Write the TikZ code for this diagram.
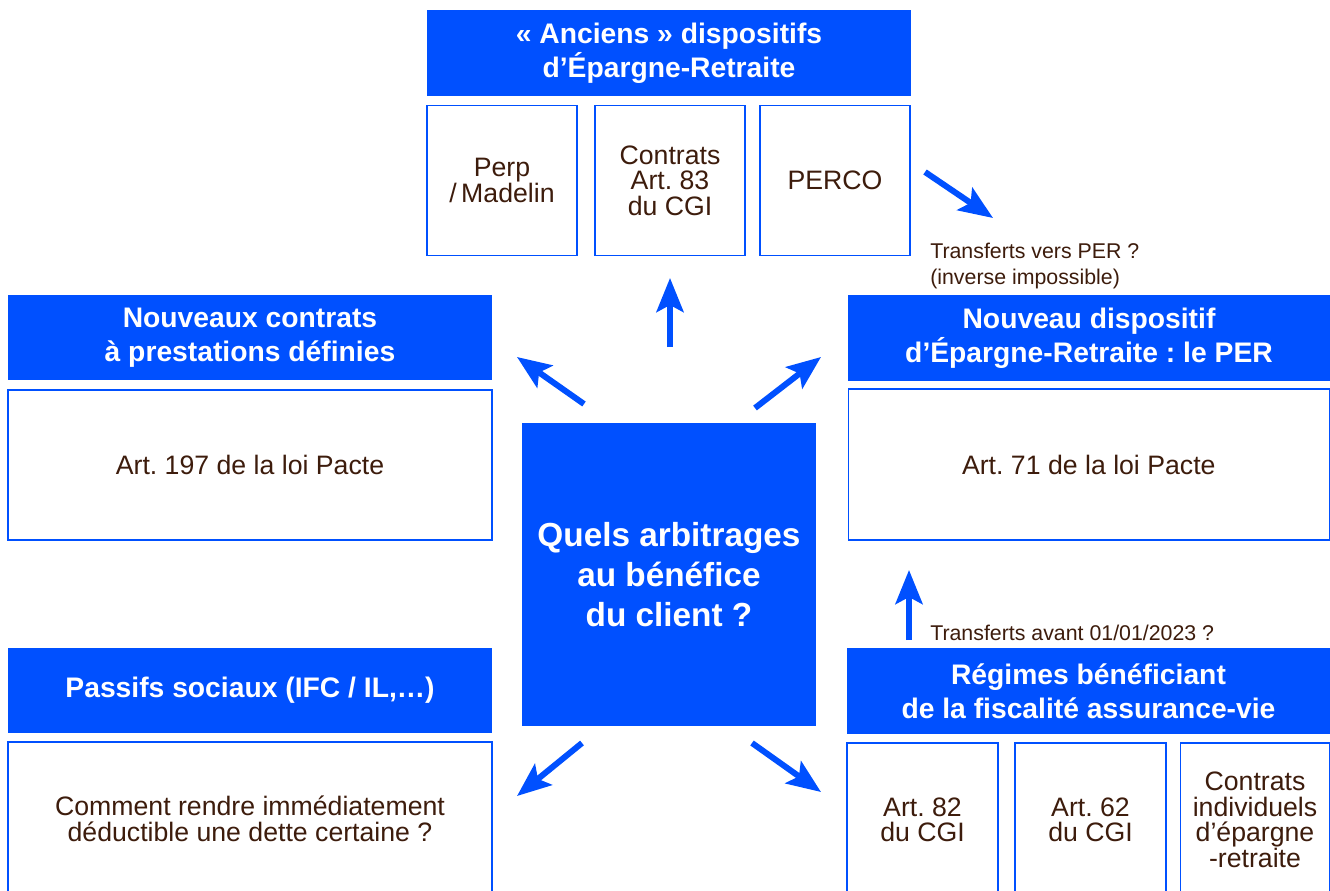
\documentclass[tikz,border=0pt]{standalone}
\usepackage{fontspec}
\setmainfont{Liberation Sans}
\usetikzlibrary{arrows.meta}
\definecolor{bleu}{HTML}{0050FF}
\definecolor{brun}{HTML}{3D1C0C}
\newdimen\pxu \pxu=0.75pt
\begin{document}
\frenchspacing
\begin{tikzpicture}[x=0.75pt,y=-0.75pt,
 hdr/.style={fill=bleu, draw=none, text=white, font=\fontsize{21.2}{25.5}\selectfont\bfseries, align=center, inner sep=0pt},
 cbox/.style={draw=bleu, line width=0.9pt, fill=white, text=brun, font=\fontsize{20}{19.2}\selectfont, align=center, inner sep=0pt},
 ctr/.style={fill=bleu, draw=none, text=white, font=\fontsize{25}{30}\selectfont\bfseries, align=center, inner sep=0pt},
 arr/.style={draw=bleu, line width=4.5pt, -{Stealth[length=25.5pt,width=20.25pt,inset=5.25pt]}},
 lbl/.style={text=brun, font=\fontsize{16}{20}\selectfont, align=left, inner sep=0pt, anchor=west}]
\useasboundingbox (0,0) rectangle (1330,891);
\fill[white] (0,0) rectangle (1330,891);

% top group
\node[hdr, minimum width=484\pxu, minimum height=86\pxu] (hTop) at (669,53) {«~Anciens~» dispositifs\\d’Épargne-Retraite};
\node[cbox, minimum width=150\pxu, minimum height=150\pxu] (perp) at (502,180.5) {Perp\\/\,Madelin};
\node[cbox, minimum width=150\pxu, minimum height=150\pxu] (art83) at (670,180.5) {Contrats\\Art. 83\\du CGI};
\node[cbox, minimum width=150\pxu, minimum height=150\pxu] (perco) at (835,180.5) {PERCO};

% left upper
\node[hdr, minimum width=484\pxu, minimum height=85\pxu] (hL1) at (250,337.5) {Nouveaux contrats\\à prestations définies};
\node[cbox, minimum width=484\pxu, minimum height=150\pxu] (bL1) at (250,465) {Art. 197 de la loi Pacte};

% right upper
\node[hdr, minimum width=482\pxu, minimum height=86\pxu] (hR1) at (1089,338) {Nouveau dispositif\\d’Épargne-Retraite : le PER};
\node[cbox, minimum width=481\pxu, minimum height=151\pxu] (bR1) at (1088.8,464.5) {Art. 71 de la loi Pacte};

% center
\node[ctr, minimum width=294\pxu, minimum height=303\pxu] (centre) at (669,574.5) {Quels arbitrages\\au bénéfice\\du client ?};

% left lower
\node[hdr, minimum width=484\pxu, minimum height=85\pxu] (hL2) at (250,690.5) {Passifs sociaux (IFC / IL,…)};
\node[cbox, minimum width=484\pxu, minimum height=154\pxu] (bL2) at (250,819) {Comment rendre immédiatement\\déductible une dette certaine ?};

% right lower
\node[hdr, minimum width=483\pxu, minimum height=86\pxu] (hR2) at (1088.5,691) {Régimes bénéficiant\\de la fiscalité assurance-vie};
\node[cbox, minimum width=151\pxu, minimum height=154\pxu] (art82) at (922.5,820) {Art. 82\\du CGI};
\node[cbox, minimum width=151\pxu, minimum height=154\pxu] (art62) at (1090.5,820) {Art. 62\\du CGI};
\node[cbox, minimum width=149\pxu, minimum height=154\pxu] (indiv) at (1255,820) {Contrats\\individuels\\d’épargne\\-retraite};

% labels
\node[lbl] (lab1) at (930,266) {Transferts vers PER ?\\(inverse impossible)};
\node[lbl] (lab2) at (930,633) {Transferts avant 01/01/2023 ?};

% arrow end points
\coordinate (upS) at (670,347); \coordinate (upE) at (670,278);
\coordinate (ulS) at (584,404); \coordinate (ulE) at (517,357);
\coordinate (urS) at (755,408); \coordinate (urE) at (821,357);
\coordinate (llS) at (582,743); \coordinate (llE) at (517,796);
\coordinate (lrS) at (752,743); \coordinate (lrE) at (821,792);
\coordinate (pcS) at (925,172); \coordinate (pcE) at (993,218);
\coordinate (ruS) at (909,640); \coordinate (ruE) at (909,570);

\draw[arr] (upS) -- (upE);
\draw[arr] (ulS) -- (ulE);
\draw[arr] (urS) -- (urE);
\draw[arr] (llS) -- (llE);
\draw[arr] (lrS) -- (lrE);
\draw[arr] (pcS) -- (pcE);
\draw[arr] (ruS) -- (ruE);
\end{tikzpicture}
\end{document}
